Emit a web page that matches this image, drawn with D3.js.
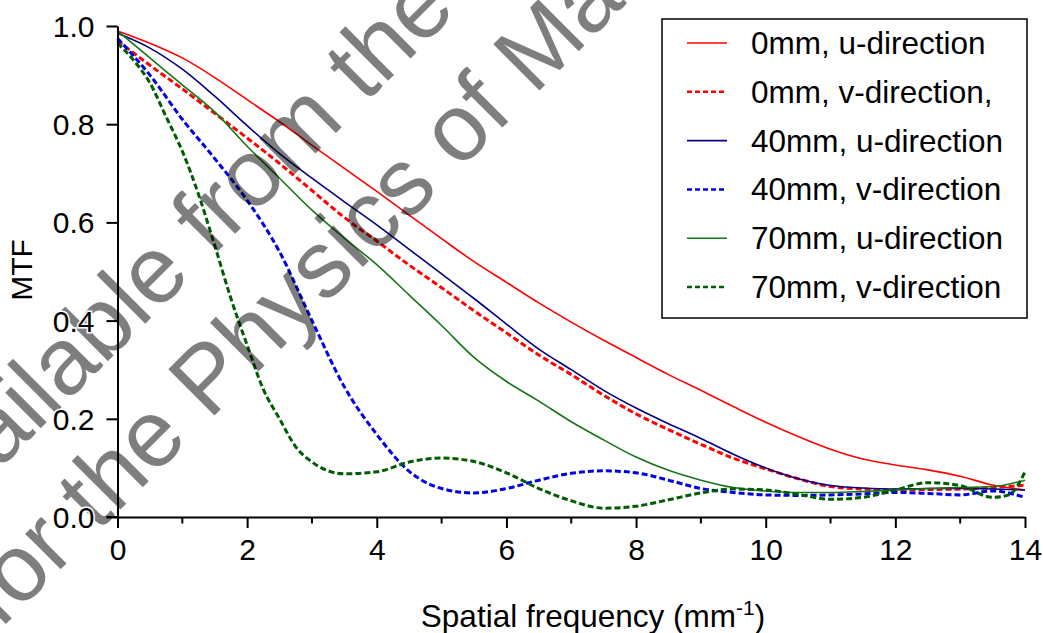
<!DOCTYPE html>
<html>
<head>
<meta charset="utf-8">
<script src="https://cdn.jsdelivr.net/npm/d3@7"></script>
<style>
  body { margin: 0; background: #fff; }
  text { font-family: "Liberation Sans", Arial, sans-serif; }
</style>
</head>
<body>
<div id="my_dataviz"></div>
<script>
// spatial frequency (mm^-1), shared by five of the curves
var freq = [0, 0.5, 1, 1.5, 2, 2.5, 3, 3.5, 4, 4.5, 5, 5.5, 6, 6.5, 7, 7.5, 8, 8.5, 9, 9.5, 10, 10.5, 11, 11.5, 12, 12.5, 13, 13.5, 14];

var mtf0u = [0.99, 0.965, 0.935, 0.895, 0.85, 0.805, 0.757, 0.71, 0.663, 0.615, 0.567, 0.52, 0.478, 0.436, 0.397, 0.36, 0.325, 0.29, 0.258, 0.225, 0.193, 0.164, 0.138, 0.118, 0.106, 0.096, 0.083, 0.065, 0.055];
var mtf0v = [0.97, 0.92, 0.872, 0.822, 0.772, 0.72, 0.665, 0.61, 0.562, 0.513, 0.467, 0.42, 0.375, 0.33, 0.29, 0.248, 0.21, 0.178, 0.148, 0.12, 0.098, 0.078, 0.062, 0.057, 0.055, 0.056, 0.057, 0.06, 0.065];
var mtf40u = [0.985, 0.955, 0.912, 0.857, 0.797, 0.74, 0.69, 0.642, 0.595, 0.545, 0.495, 0.445, 0.393, 0.342, 0.3, 0.258, 0.222, 0.19, 0.16, 0.128, 0.1, 0.078, 0.064, 0.059, 0.057, 0.058, 0.058, 0.057, 0.055];
var mtf40v = [0.975, 0.9, 0.81, 0.73, 0.645, 0.54, 0.4, 0.265, 0.168, 0.093, 0.058, 0.049, 0.058, 0.075, 0.089, 0.094, 0.09, 0.075, 0.058, 0.05, 0.045, 0.044, 0.045, 0.047, 0.05, 0.048, 0.045, 0.053, 0.04];
var mtf70u = [0.99, 0.935, 0.88, 0.825, 0.755, 0.69, 0.625, 0.568, 0.514, 0.452, 0.39, 0.325, 0.276, 0.236, 0.194, 0.157, 0.122, 0.095, 0.075, 0.06, 0.053, 0.05, 0.05, 0.052, 0.055, 0.058, 0.06, 0.062, 0.075];

// the 70mm v-direction curve wiggles more, so it was read at more points
var freq70v = [0, 0.25, 0.5, 0.75, 1, 1.25, 1.5, 1.75, 2, 2.25, 2.5, 2.75, 3, 3.5, 4, 4.5, 5, 5.5, 6, 6.5, 7, 7.5, 8, 8.5, 9, 9.5, 10, 10.5, 11, 11.5, 12, 12.5, 13, 13.5, 13.75, 14];
var mtf70v = [0.965, 0.93, 0.884, 0.815, 0.745, 0.657, 0.553, 0.445, 0.35, 0.26, 0.2, 0.143, 0.112, 0.088, 0.092, 0.112, 0.12, 0.113, 0.09, 0.058, 0.033, 0.018, 0.022, 0.035, 0.049, 0.057, 0.055, 0.046, 0.036, 0.04, 0.055, 0.07, 0.064, 0.04, 0.045, 0.092];

var seriesNames = ["0mm, u-direction", "0mm, v-direction,", "40mm, u-direction", "40mm, v-direction", "70mm, u-direction", "70mm, v-direction"];
var xTicks = [0, 2, 4, 6, 8, 10, 12, 14];
var xMinorTicks = [1, 3, 5, 7, 9, 11, 13];
var yTicks = [0, 0.2, 0.4, 0.6, 0.8, 1.0];

var series = [
  { name: seriesNames[0], x: freq, y: mtf0u, color: "#ff0000", dash: null },
  { name: seriesNames[1], x: freq, y: mtf0v, color: "#ff0000", dash: "6,3" },
  { name: seriesNames[2], x: freq, y: mtf40u, color: "#000080", dash: null },
  { name: seriesNames[3], x: freq, y: mtf40v, color: "#0000e6", dash: "6,3" },
  { name: seriesNames[4], x: freq, y: mtf70u, color: "#157515", dash: null },
  { name: seriesNames[5], x: freq70v, y: mtf70v, color: "#005c00", dash: "6,3" }
];

var W = 1043, H = 633;
var svg = d3
  .select("#my_dataviz")
  .append("svg")
  .attr("width", W)
  .attr("height", H);

var x = d3.scaleLinear().domain([0, 14]).range([117.5, 1025]);
var y = d3.scaleLinear().domain([0, 1]).range([517, 26]);

// curves
var line = d3
  .line()
  .curve(d3.curveMonotoneX)
  .x(d => x(d[0]))
  .y(d => y(d[1]));

svg
  .append("g")
  .selectAll("path")
  .data(series)
  .enter()
  .append("path")
  .attr("fill", "none")
  .attr("stroke", d => d.color)
  .attr("stroke-width", d => (d.dash ? 3 : 1.6))
  .attr("stroke-dasharray", d => d.dash)
  .attr("d", d => line(d.x.map((v, i) => [v, d.y[i]])));

// watermark, half-transparent, over the curves
var wm = svg.append("g").attr("fill", "#000").attr("opacity", 0.5)
  .style("font-size", "95px");
wm.append("text")
  .attr("transform", "translate(-72,541) rotate(-45)")
  .text("available from the");
wm.append("text")
  .attr("transform", "translate(0,630) rotate(-45)")
  .text("for the Physics of Ma");

// axes
var xAxis = svg.append("g").attr("transform", "translate(0,517)");
xAxis.call(d3.axisBottom(x).tickValues(xTicks).tickSize(11).tickSizeOuter(0).tickFormat(d3.format("d")));
xAxis.selectAll(".minor")
  .data(xMinorTicks)
  .enter()
  .append("line")
  .attr("class", "minor")
  .attr("x1", d => x(d)).attr("x2", d => x(d))
  .attr("y1", 0).attr("y2", 6.5)
  .attr("stroke", "#000").attr("stroke-width", 2);

var yAxis = svg.append("g").attr("transform", "translate(117.5,0)");
yAxis.call(d3.axisLeft(y).tickValues(yTicks).tickSize(11).tickSizeOuter(0).tickFormat(d3.format(".1f")));

svg.selectAll(".domain").attr("stroke", "#000").attr("stroke-width", 2);
svg.selectAll(".tick line").attr("stroke", "#000").attr("stroke-width", 2);
svg.selectAll(".tick text")
  .attr("fill", "#000")
  .style("font-size", "30px")
  .attr("stroke", "#fff").attr("stroke-width", 3)
  .attr("paint-order", "stroke");
xAxis.selectAll(".tick text").attr("y", 22).attr("dy", "0.71em");
yAxis.selectAll(".tick text").attr("x", -23).attr("dy", "0.35em");
// extend x axis line left to meet the y tick at 0
xAxis.append("line").attr("x1", 106.5).attr("x2", 117.5).attr("y1", 0).attr("y2", 0)
  .attr("stroke", "#000").attr("stroke-width", 2);

// axis titles
var xt = svg.append("text")
  .attr("x", 593).attr("y", 627)
  .attr("text-anchor", "middle")
  .style("font-size", "31.5px");
xt.append("tspan").text("Spatial frequency (mm");
xt.append("tspan").attr("dy", -12).style("font-size", "21px").text("-1");
xt.append("tspan").attr("dy", 12).text(")");

svg.append("text")
  .attr("transform", "translate(32,270) rotate(-90)")
  .attr("text-anchor", "middle")
  .style("font-size", "30px")
  .text("MTF");

// legend
var legend = svg.append("g");
legend.append("rect")
  .attr("x", 662).attr("y", 19).attr("width", 365).attr("height", 299)
  .attr("fill", "#fff").attr("stroke", "#000").attr("stroke-width", 1.5);
var rows = legend.selectAll(".row")
  .data(series)
  .enter()
  .append("g")
  .attr("transform", (d, i) => "translate(0," + (43 + i * 48.8) + ")");
rows.append("line")
  .attr("x1", 687).attr("x2", 727)
  .attr("stroke", d => d.color)
  .attr("stroke-width", d => (d.dash ? 2.5 : 1.6))
  .attr("stroke-dasharray", d => (d.dash ? "5,3" : null));
rows.append("text")
  .attr("x", 751).attr("dy", "0.35em")
  .style("font-size", "31.5px")
  .text(d => d.name);
</script>
</body>
</html>
